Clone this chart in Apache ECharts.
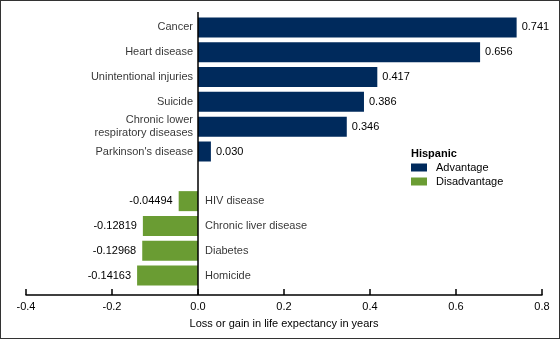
<!DOCTYPE html>
<html>
<head>
<meta charset="utf-8">
<script src="https://cdn.jsdelivr.net/npm/echarts@6/dist/echarts.min.js"></script>
<style>
  html, body { margin: 0; padding: 0; background: #fff; }
  #chart { width: 560px; height: 339px; box-sizing: border-box; border: 1px solid #333; }
</style>
</head>
<body>
<div id="chart"></div>
<script>
// causes, top to bottom ('' keeps the gap between the two groups)
var causes = ['Cancer', 'Heart disease', 'Unintentional injuries', 'Suicide',
    'Chronic lower\nrespiratory diseases', "Parkinson's disease", '',
    'HIV disease', 'Chronic liver disease', 'Diabetes', 'Homicide'];
var advantage = [0.741, 0.656, 0.417, 0.386, 0.346, 0.030, null, null, null, null, null];
var disadvantage = [null, null, null, null, null, null, null, -0.04494, -0.12819, -0.12968, -0.14163];
var xTicks = [-0.4, -0.2, 0.0, 0.2, 0.4, 0.6, 0.8];

var navy = '#002a5c';
var green = '#6a9c33';
var font = 'Liberation Sans, Arial, sans-serif';

var chart = echarts.init(document.getElementById('chart'));

// name labels sit left of zero for gains, right of zero for losses
var nameData = [];
causes.forEach(function (c, i) {
    if (c === '') return;
    var neg = disadvantage[i] != null;
    nameData.push({
        value: [0, i],
        label: { position: neg ? 'right' : 'left', distance: neg ? 7 : 5, align: neg ? 'left' : 'right' }
    });
});

var option = {
    animation: false,
    textStyle: { fontFamily: font },
    title: {
        text: 'Hispanic',
        left: 410, top: 147, padding: 0,
        textStyle: { fontSize: 11, fontWeight: 'bold', color: '#000', fontFamily: font }
    },
    legend: {
        data: ['Advantage', 'Disadvantage'],
        orient: 'vertical',
        left: 410, top: 161, padding: 0,
        itemWidth: 16, itemHeight: 8, itemGap: 3,
        icon: 'rect',
        textStyle: { fontSize: 11, color: '#000', padding: [0, 0, 0, 4] }
    },
    grid: { left: 25, right: 17, top: 14, bottom: 50, containLabel: false },
    xAxis: {
        type: 'value',
        min: xTicks[0], max: xTicks[xTicks.length - 1], interval: 0.2,
        offset: 7,
        name: 'Loss or gain in life expectancy in years',
        nameLocation: 'middle', nameGap: 23,
        nameTextStyle: { fontSize: 11, color: '#000' },
        axisLine: { show: true, onZero: false, lineStyle: { color: '#000', width: 1.5 } },
        axisTick: { show: true, inside: true, length: 6, lineStyle: { color: '#000', width: 1.5 } },
        axisLabel: { fontSize: 11, color: '#000', margin: 6, formatter: function (v) { return v.toFixed(1); } },
        splitLine: { show: false }
    },
    yAxis: {
        type: 'category',
        data: causes,
        inverse: true,
        axisLine: { show: false },
        axisTick: { show: false },
        axisLabel: { show: false }
    },
    series: [
        {
            name: 'Advantage',
            type: 'bar',
            stack: 'v',
            barWidth: 20,
            data: advantage,
            itemStyle: { color: navy },
            label: {
                show: true, position: 'right', distance: 5,
                fontSize: 11, color: '#000',
                formatter: function (p) { return p.value.toFixed(3); }
            }
        },
        {
            name: 'Disadvantage',
            type: 'bar',
            stack: 'v',
            barWidth: 20,
            data: disadvantage,
            itemStyle: { color: green },
            label: {
                show: true, position: 'left', distance: 6,
                fontSize: 11, color: '#000',
                formatter: function (p) { return p.value.toFixed(5); }
            }
        },
        {
            name: 'names',
            type: 'scatter',
            symbolSize: 0,
            silent: true,
            data: nameData,
            label: {
                show: true, fontSize: 11, color: '#000', lineHeight: 13,
                formatter: function (p) { return causes[p.value[1]]; }
            },
            // zero line: x from the value axis, running from just above the top bar down to the x axis line
            markLine: {
                silent: true, symbol: 'none',
                label: { show: false },
                lineStyle: { color: '#000', width: 1.5, type: 'solid' },
                data: [[{ coord: [0, 0], y: 11 }, { coord: [0, causes.length - 1], y: 294 }]]
            }
        }
    ]
};

chart.setOption(option);
</script>
</body>
</html>
